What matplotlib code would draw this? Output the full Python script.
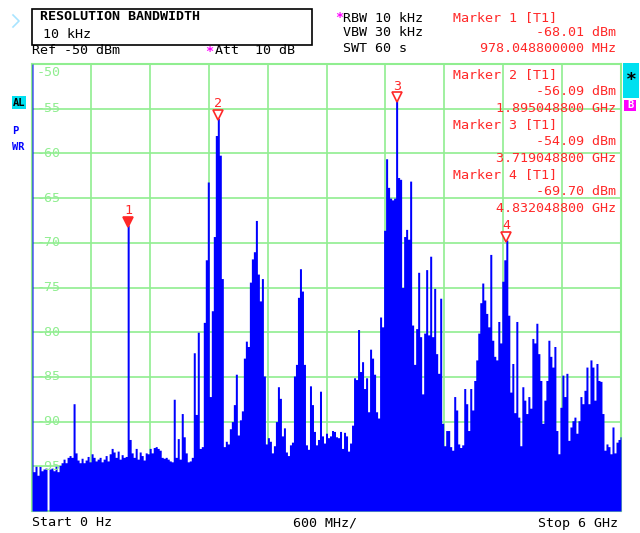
import numpy as np
import matplotlib.pyplot as plt
import matplotlib.transforms as mtransforms
from matplotlib.patches import Rectangle
from matplotlib.lines import Line2D

# Trace values (dBm), one per ~20 MHz from 0 Hz to 6 GHz
levels = [
    -50.0, -95.6, -95.0, -96.0, -95.0, -95.5, -95.3, -95.2, -100.0, -95.3,
    -95.2, -95.5, -95.0, -95.6, -94.9, -94.6, -94.2, -94.6, -94.0, -93.8,
    -94.0, -88.0, -93.5, -94.3, -94.6, -94.1, -94.6, -94.3, -93.9, -94.5,
    -93.6, -94.0, -94.4, -94.2, -94.0, -94.5, -94.2, -93.8, -94.4, -93.6,
    -93.0, -93.4, -94.0, -93.3, -94.2, -93.7, -94.0, -93.9, -68.01, -92.0,
    -93.5, -94.0, -93.0, -94.2, -93.4, -93.8, -94.3, -93.5, -93.6, -93.0,
    -93.5, -92.9, -92.8, -93.0, -93.2, -94.0, -94.1, -94.0, -94.2, -94.4,
    -94.5, -87.5, -94.0, -91.9, -94.2, -89.1, -91.7, -93.5, -94.5, -94.4,
    -94.0, -82.3, -89.2, -80.0, -93.0, -92.8, -78.9, -71.9, -63.2, -87.2,
    -77.6, -69.3, -58.0, -56.09, -60.2, -74.0, -92.8, -92.2, -92.5, -90.8,
    -90.0, -88.1, -84.7, -91.5, -89.8, -88.8, -82.9, -81.0, -81.6, -74.4,
    -71.8, -71.0, -67.5, -73.5, -76.5, -74.0, -84.9, -92.5, -91.8, -92.2,
    -93.5, -92.7, -90.0, -86.1, -87.4, -91.6, -90.7, -93.4, -93.8, -92.6,
    -92.3, -84.9, -83.6, -76.1, -72.9, -75.4, -83.6, -92.6, -93.1, -86.0,
    -88.1, -91.1, -92.6, -92.0, -86.6, -91.6, -92.4, -91.3, -91.8, -91.6,
    -91.0, -91.1, -91.7, -91.8, -91.1, -93.0, -91.2, -91.6, -93.3, -92.4,
    -90.4, -85.1, -85.3, -79.7, -84.4, -83.3, -86.3, -85.1, -88.9, -81.9,
    -82.9, -84.7, -88.9, -89.6, -78.3, -79.4, -68.6, -60.6, -63.8, -65.0,
    -65.2, -65.0, -54.09, -62.7, -62.9, -75.0, -69.3, -68.5, -69.6, -63.1,
    -79.2, -83.6, -79.6, -73.3, -80.5, -86.9, -80.1, -73.0, -80.3, -71.5,
    -80.5, -75.1, -82.4, -84.6, -76.2, -90.2, -92.7, -91.0, -91.0, -92.8,
    -93.2, -87.2, -88.7, -92.5, -92.9, -92.6, -86.3, -88.0, -91.0, -86.3,
    -88.7, -85.4, -83.1, -80.1, -76.7, -74.5, -76.4, -77.9, -79.4, -71.3,
    -80.9, -82.7, -83.1, -78.8, -81.2, -74.3, -71.9, -69.70, -78.1, -86.7,
    -83.5, -89.0, -78.8, -89.5, -92.7, -86.1, -87.6, -89.1, -87.2, -88.5,
    -80.7, -81.2, -79.0, -82.4, -85.4, -90.2, -87.6, -85.4, -80.9, -82.7,
    -83.9, -81.6, -91.0, -93.6, -88.4, -84.8, -87.2, -84.6, -92.1, -90.6,
    -89.9, -89.5, -91.3, -89.9, -87.2, -88.0, -86.5, -83.9, -88.0, -83.1,
    -83.9, -87.6, -83.5, -85.4, -85.5, -89.1, -93.2, -92.5, -92.8, -93.6,
    -90.6, -93.5, -92.3, -92.0, -91.7,
]

start_mhz = 0
stop_mhz = 6000
ref_level = -50
y_bottom = -100

# markers
mk_num = [1, 2, 3, 4]
mk_freq = [978.0488, 1895.0488, 3719.0488, 4832.0488]   # MHz
mk_level = [-68.01, -56.09, -54.09, -69.70]
mk_freq_txt = ['978.048800000 MHz', '1.895048800 GHz', '3.719048800 GHz', '4.832048800 GHz']

ytick_vals = [-50, -55, -60, -65, -70, -75, -80, -85, -90, -95]

freqs = np.linspace(start_mhz, stop_mhz, len(levels))

plt.rcParams['font.family'] = ['DejaVu Sans Mono']
FS = 9.6
GREEN = '#90ee90'
RED = '#ff2828'
BLUE = '#0000ff'

W, H = 640, 533
fig = plt.figure(figsize=(W / 100, H / 100), dpi=100)
ax = fig.add_axes([32 / W, 1 - 511 / H, (621 - 32) / W, (511 - 64) / H])

# trace
ax.fill_between(freqs, levels, y_bottom, step='mid', color=BLUE, lw=0, zorder=3)

ax.set_xlim(start_mhz, stop_mhz)
ax.set_ylim(y_bottom, ref_level)
ax.set_xticks(np.linspace(start_mhz, stop_mhz, 11))
ax.set_yticks(np.arange(y_bottom, ref_level + 1, 5))
ax.grid(True, color=GREEN, lw=1.2, zorder=1)
ax.set_axisbelow(True)
ax.tick_params(length=0, labelbottom=False, labelleft=False)
for s in ax.spines.values():
    s.set_color(GREEN)
    s.set_linewidth(1.5)

# level labels inside the grid
for v in ytick_vals:
    yy = v - 0.95 if v == ref_level else v
    ax.text(50, yy, str(v), color=GREEN, fontsize=FS, va='center', ha='left', zorder=5)

# marker triangles and numbers
tri_tr = mtransforms.offset_copy(ax.transData, fig=fig, x=0, y=3.5, units='dots')
for n, f, lv in zip(mk_num, mk_freq, mk_level):
    face = RED if n == 1 else 'white'
    ax.plot([f], [lv], marker='v', ms=6.5, mfc=face, mec=RED, mew=1.2,
            transform=tri_tr, zorder=6, clip_on=False)
    ax.annotate(str(n), (f, lv), xytext=(0, 8), textcoords='offset pixels',
                ha='center', va='bottom', color=RED, fontsize=FS, zorder=6)


def ftext(x, y, s, **kw):
    kw.setdefault('fontsize', FS)
    kw.setdefault('va', 'center')
    fig.text(x / W, 1 - y / H, s, **kw)


def frect(x0, y0, x1, y1, **kw):
    fig.add_artist(Rectangle((x0 / W, 1 - y1 / H), (x1 - x0) / W, (y1 - y0) / H,
                             transform=fig.transFigure, **kw))


# header box
frect(32, 9, 312, 45, fill=False, edgecolor='black', lw=1.2)
ftext(40, 17, 'RESOLUTION BANDWIDTH', fontweight='bold')
ftext(43, 34, '10 kHz')
ftext(32, 51, 'Ref -50 dBm')
ftext(205, 51, '*', color='#ff00ff', fontweight='bold')
ftext(215, 51, 'Att  10 dB')

# chevron
fig.add_artist(Line2D([13 / W, 19 / W, 13 / W], [1 - 15 / H, 1 - 21 / H, 1 - 27 / H],
                      color='#a8e4ff', lw=1.2, transform=fig.transFigure))

ftext(335, 18, '*', color='#ff00ff', fontweight='bold')
ftext(343, 18, 'RBW 10 kHz')
ftext(343, 33, 'VBW 30 kHz')
ftext(343, 48, 'SWT 60 s')

# marker readouts
ftext(453, 18, 'Marker 1 [T1]', color=RED)
ftext(616, 33, '%.2f dBm' % mk_level[0], color=RED, ha='right')
ftext(616, 48, mk_freq_txt[0], color=RED, ha='right')
for i in range(1, 4):
    y0 = 75 + (i - 1) * 50
    ftext(453, y0, 'Marker %d [T1]' % mk_num[i], color=RED)
    ftext(616, y0 + 16.7, '%.2f dBm' % mk_level[i], color=RED, ha='right')
    ftext(616, y0 + 33.3, mk_freq_txt[i], color=RED, ha='right')

# side flags
frect(623, 63, 639, 98, color='#00e0f0', lw=0)
ftext(631, 80, '*', ha='center', fontweight='bold', fontsize=13)
frect(624, 100, 636, 111, color='#ff00ff', lw=0)
ftext(630, 105.5, 'B', ha='center', color='white', fontweight='bold', fontsize=7.5)

frect(12, 96, 26, 109, color='#00e0f0', lw=0)
ftext(12.5, 102.5, 'AL', fontweight='bold', fontsize=7.5)
ftext(12.5, 131.5, 'P', color=BLUE, fontweight='bold', fontsize=7.5)
ftext(12.5, 147, 'WR', color=BLUE, fontweight='bold', fontsize=7.5)

# footer
ftext(32, 523, 'Start 0 Hz')
ftext(293, 523, '600 MHz/')
ftext(618, 523, 'Stop 6 GHz', ha='right')

fig.savefig('out.png', dpi=100, facecolor='white')
